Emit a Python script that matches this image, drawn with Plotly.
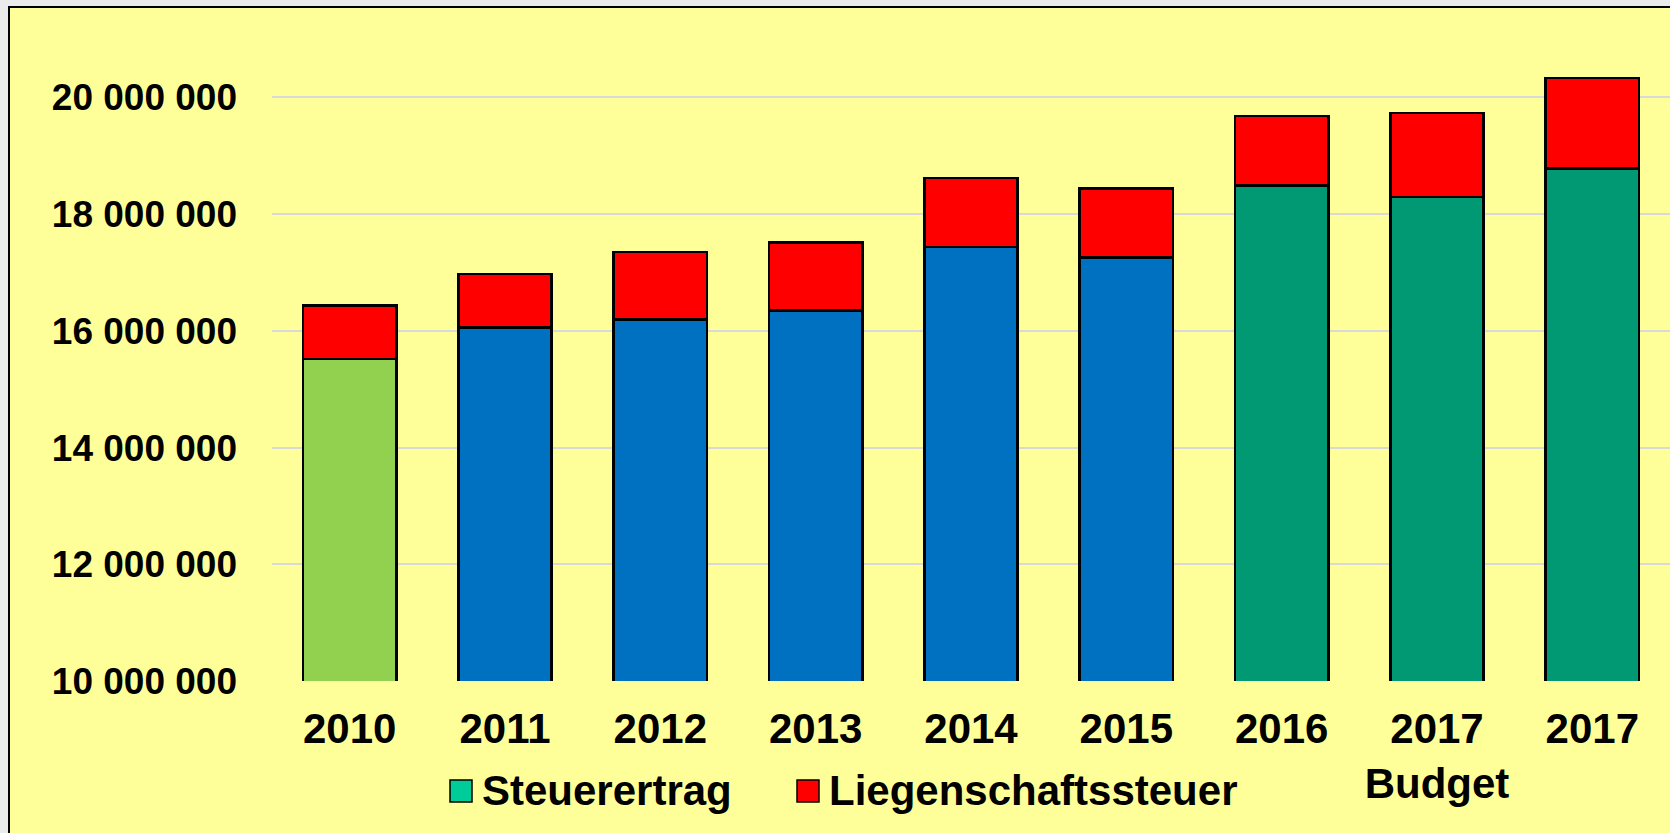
import plotly.graph_objects as go

# ---- data ----
categories = ["2010", "2011", "2012", "2013", "2014", "2015", "2016", "2017<br>Budget", "2017"]
steuerertrag = [15_520_000, 16_060_000, 16_190_000, 16_350_000, 17_440_000,
                17_260_000, 18_490_000, 18_290_000, 18_780_000]
liegenschaftssteuer = [910_000, 910_000, 1_160_000, 1_160_000, 1_180_000,
                       1_180_000, 1_190_000, 1_440_000, 1_550_000]
series_names = ["Steuerertrag", "Liegenschaftssteuer"]

# ---- styles ----
steuer_colors = ["#92D050"] + ["#0070C0"] * 5 + ["#009973"] * 3
lieg_color = "#FF0000"
legend_colors = ["#00CC99", "#FF0000"]
bg_yellow = "#FFFF99"
page_gray = "#EBEBEB"
FONT = "Liberation Sans, Arial, sans-serif"

W, H = 1670, 833
ML, MR, MT, MB = 272, 0, 39, 152
PW, PH = W - ML - MR, H - MT - MB


def px_x(px):
    return (px - ML) / PW


def px_y(py):
    return (H - MB - py) / PH


fig = go.Figure()
fig.add_trace(go.Bar(
    x=categories, y=steuerertrag, name=series_names[0],
    marker=dict(color=steuer_colors, line=dict(color="black", width=2.5)),
    showlegend=False,
))
fig.add_trace(go.Bar(
    x=categories, y=liegenschaftssteuer, name=series_names[1],
    marker=dict(color=lieg_color, line=dict(color="black", width=2.5)),
    showlegend=False,
))

shapes = [
    # yellow framed background
    dict(type="rect", xref="paper", yref="paper", layer="below",
         x0=px_x(9), x1=px_x(1700), y0=px_y(900), y1=px_y(7),
         fillcolor=bg_yellow, line=dict(color="black", width=2)),
]
annotations = []

# manual legend
legend_items = [
    (450, 483, series_names[0], legend_colors[0]),
    (797, 830, series_names[1], legend_colors[1]),
]
for sx, tx, name, col in legend_items:
    shapes.append(dict(type="rect", xref="paper", yref="paper", layer="above",
                       x0=px_x(sx), x1=px_x(sx + 22), y0=px_y(802), y1=px_y(780),
                       fillcolor=col, line=dict(color="black", width=1.5)))
    annotations.append(dict(xref="paper", yref="paper", x=px_x(tx - 3), y=px_y(791),
                            xanchor="left", yanchor="middle", showarrow=False,
                            text=name,
                            font=dict(family=FONT, size=42, color="black", weight="bold")))

fig.update_layout(
    width=W, height=H,
    margin=dict(l=ML, r=MR, t=MT, b=MB, pad=0),
    barmode="stack", bargap=0.4,
    paper_bgcolor=page_gray,
    plot_bgcolor="rgba(0,0,0,0)",
    separators=". ",
    shapes=shapes,
    annotations=annotations,
    showlegend=False,
    xaxis=dict(
        tickfont=dict(family=FONT, size=42, color="black", weight="bold"),
        showgrid=False, showline=False, zeroline=False,
        ticks="", ticklabelstandoff=19,
    ),
    yaxis=dict(
        range=[10_000_000, 21_000_000],
        tick0=10_000_000, dtick=2_000_000, tickformat=",d",
        tickfont=dict(family=FONT, size=37, color="black", weight="bold"),
        showgrid=True, gridcolor="#D9D9D9", gridwidth=2,
        zeroline=False, showline=False, ticks="",
        ticklabelstandoff=34,
    ),
)

fig.write_html(
    "out.html",
    config={"displayModeBar": False},
    post_script="document.body.style.margin='0';document.body.style.background='#EBEBEB';",
)
